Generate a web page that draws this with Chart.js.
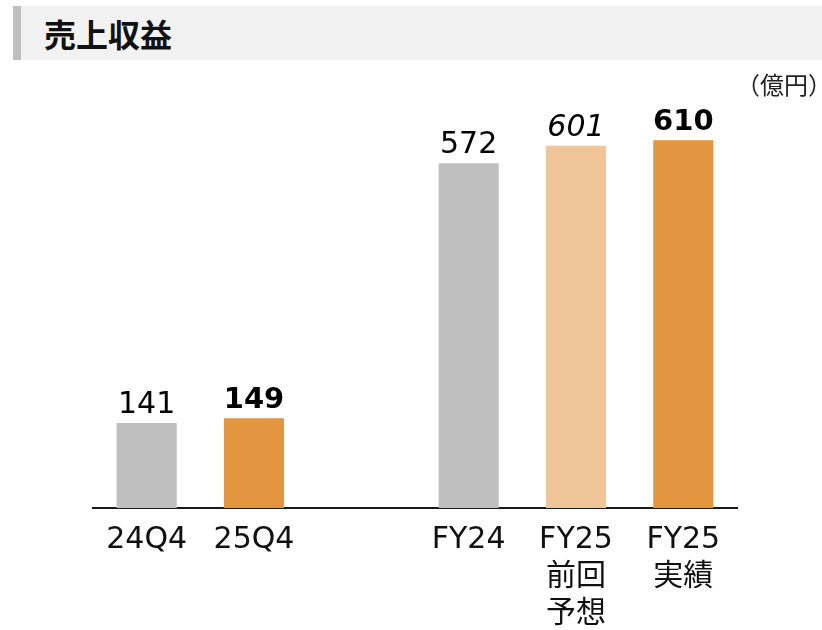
<!DOCTYPE html>
<html>
<head>
<meta charset="utf-8">
<script src="https://cdn.jsdelivr.net/npm/chart.js@4"></script>
<style>
  body { margin: 0; background: #fff; font-family: "DejaVu Sans", "Noto Sans CJK JP", sans-serif; }
  #wrap { position: relative; width: 822px; height: 630px; }
  #chart { position: absolute; left: 0; top: 0; }
  .band {
    position: absolute; left: 13px; top: 6px; width: 801px; height: 54px;
    background: #f2f2f2; border-left: 8px solid #bfbfbf;
    font: bold 32px "Noto Sans CJK JP", sans-serif; line-height: 54px;
    padding-left: 23px; box-sizing: content-box; color: #111;
  }
  .unit {
    position: absolute; left: 736px; top: 69px;
    font: 24px "Noto Sans CJK JP", sans-serif; color: #222; line-height: 30px;
  }
</style>
</head>
<body>
<div id="wrap">
  <canvas id="chart" width="822" height="630"></canvas>
  <div class="band">売上収益</div>
  <div class="unit">（億円）</div>
</div>
<script>
const categories = [["24Q4"], ["25Q4"], [""], ["FY24"], ["FY25", "前回", "予想"], ["FY25", "実績"]];
const revenue = [141, 149, null, 572, 601, 610];
const barColors = ["#bfbfbf", "#e3953f", "#ffffff", "#bfbfbf", "#f0c699", "#e3953f"];
const labelStyles = ["normal", "bold", "normal", "normal", "italic", "bold"];

const valueLabels = {
  id: "valueLabels",
  afterDatasetsDraw(chart) {
    const ctx = chart.ctx;
    const meta = chart.getDatasetMeta(0);
    ctx.save();
    ctx.fillStyle = "#000";
    ctx.textAlign = "center";
    ctx.textBaseline = "alphabetic";
    meta.data.forEach((bar, i) => {
      const v = revenue[i];
      if (v == null) return;
      const st = labelStyles[i];
      let f = "30px 'DejaVu Sans'";
      if (st === "bold") f = "bold 29px 'DejaVu Sans'";
      if (st === "italic") f = "italic 30px 'DejaVu Sans'";
      ctx.font = f;
      ctx.fillText(String(v), bar.x, bar.y - 10);
    });
    ctx.restore();
  },
};

new Chart(document.getElementById("chart"), {
  type: "bar",
  data: {
    labels: categories,
    datasets: [
      {
        data: revenue,
        backgroundColor: barColors,
        categoryPercentage: 1,
        barPercentage: 0.56,
      },
    ],
  },
  options: {
    responsive: false,
    animation: false,
    layout: { padding: { left: 93, right: 85, top: 86, bottom: 0 } },
    plugins: {
      legend: { display: false },
      tooltip: { enabled: false },
    },
    scales: {
      x: {
        grid: { display: false, drawTicks: false },
        border: { display: true, color: "#1a1a1a", width: 2 },
        ticks: {
          color: "#111",
          padding: 14,
          font: { family: "'DejaVu Sans', 'Noto Sans CJK JP'", size: 30, lineHeight: 1.23 },
          maxRotation: 0,
          autoSkip: false,
        },
        afterFit: (axis) => { axis.height = 122; },
      },
      y: {
        display: false,
        min: 0,
        max: 700,
      },
    },
  },
  plugins: [valueLabels],
});
</script>
</body>
</html>
